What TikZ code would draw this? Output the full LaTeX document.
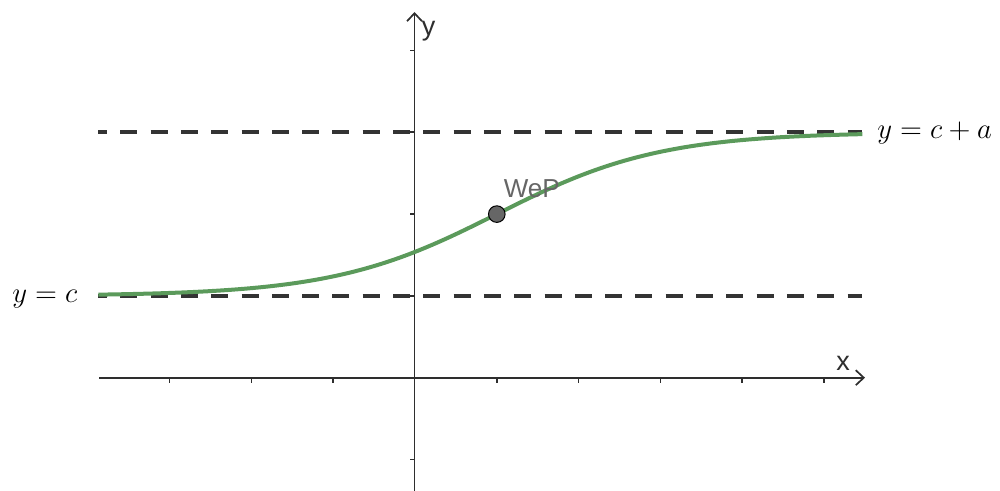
\documentclass[tikz,border=0pt]{standalone}
\usepackage{fontspec}
\setsansfont{Liberation Sans}
\usetikzlibrary{arrows.meta}
\definecolor{axisgray}{HTML}{2E2E2E}
\definecolor{dashgray}{HTML}{333333}
\definecolor{curvegreen}{HTML}{5B9A5B}
\definecolor{ptgray}{HTML}{666666}
\begin{document}
\begin{tikzpicture}[x=0.5pt,y=-0.5pt,
  axisline/.style={draw=axisgray, line width=0.85pt},
  axisarrow/.style={-{Straight Barb[length=4pt,width=7.5pt,line width=0.85pt]}},
  tickmark/.style={draw=axisgray, line width=0.8pt},
  asymptote/.style={draw=dashgray, line width=2.2pt, dash pattern=on 8.5pt off 6.65pt, dash phase=4pt},
  sigmoid/.style={draw=curvegreen, line width=2pt},
  axislabel/.style={text=axisgray, font=\sffamily\fontsize{13.5}{16}\selectfont, inner sep=0pt},
  mathlabel/.style={font=\fontsize{14.8}{17}\selectfont, inner sep=0pt},
  ptlabel/.style={text=ptgray, font=\sffamily\fontsize{13}{15}\selectfont, inner sep=0pt},
  ptdot/.style={circle, fill=ptgray, draw=black, line width=0.5pt, inner sep=0pt, minimum size=8.3pt}]
\useasboundingbox (0,0) rectangle (1000,491);
% axes
\coordinate (xl) at (99,377.7);
\coordinate (xr) at (865,377.7);
\coordinate (yb) at (414.5,495);
\coordinate (yt) at (414.5,12);
\draw[axisline,axisarrow] (xl) -- (xr);
\draw[axisline,axisarrow] (yb) -- (yt);
\foreach \k in {-3,-2,-1,1,2,3,4,5}
  \draw[tickmark] ({415+81.8*\k},377.7) -- ++(0,5);
\foreach \k in {-1,1,2,3,4}
  \draw[tickmark] (414.5,{377.7-81.8*\k}) -- ++(-5,0);
\node[axislabel, anchor=base west] (xlab) at (836,371) {x};
\node[axislabel, anchor=base west] (ylab) at (421.5,36) {y};
% asymptotes
\coordinate (ul) at (98,132.3);
\coordinate (ur) at (862,132.3);
\coordinate (ll) at (98,295.9);
\coordinate (lr) at (862,295.9);
\draw[asymptote] (ul) -- (ur);
\draw[asymptote] (ll) -- (lr);
% curve
\draw[sigmoid] plot[domain=-3.87:5.47, samples=120, variable=\t]
  ({415+81.8*\t},{377.7-81.8*(1+2/(1+exp(-(\t-1))))});
% inflection point
\node[ptdot] (wep) at (496.8,214.1) {};
\node[ptlabel, anchor=base west] (weplab) at (503.5,198) {WeP};
% labels
\node[mathlabel, anchor=base west] (upper) at (877,139) {$y = c + a$};
\node[mathlabel, anchor=base west] (lower) at (12,303) {$y = c$};
\end{tikzpicture}
\end{document}
